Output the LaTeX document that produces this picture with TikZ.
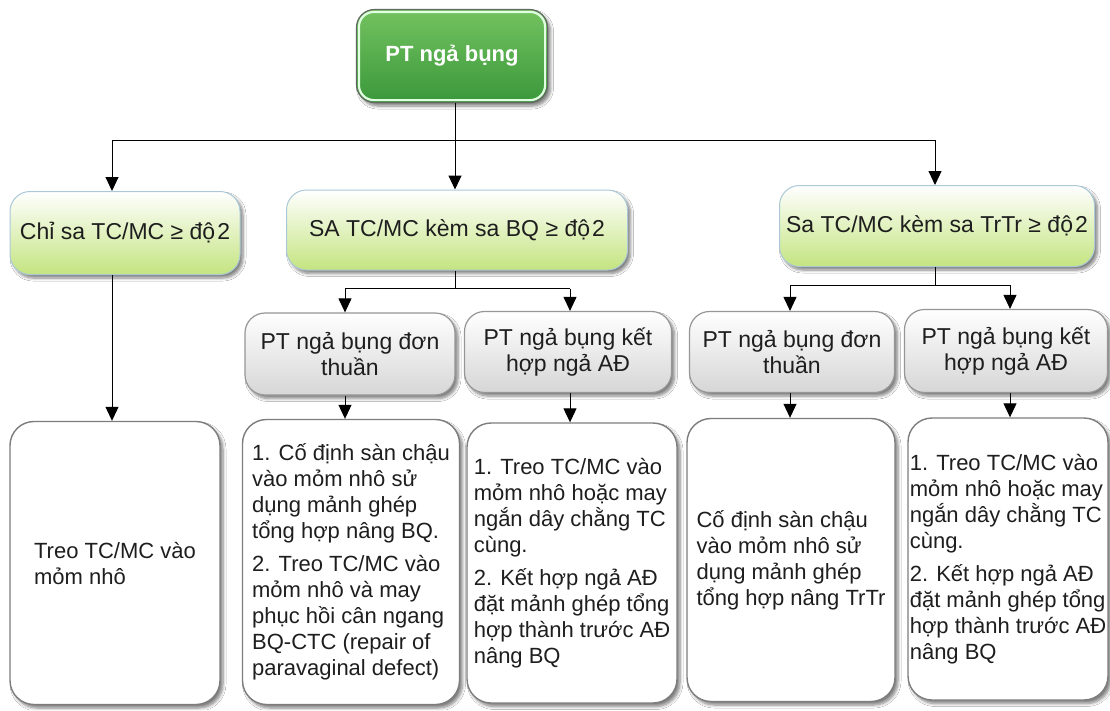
\documentclass[tikz,border=0pt]{standalone}
\usepackage{fontspec}
\setmainfont{Liberation Sans}
\usetikzlibrary{arrows.meta,shadows.blur}

\definecolor{rootTop}{RGB}{116,194,96}
\definecolor{rootBot}{RGB}{58,152,58}
\definecolor{rootEdge}{RGB}{95,105,95}
\definecolor{catBot}{RGB}{196,228,128}
\definecolor{catEdge}{RGB}{170,200,215}
\definecolor{subBot}{RGB}{214,214,214}
\definecolor{subEdge}{RGB}{150,150,150}
\definecolor{leafEdge}{RGB}{125,125,125}
\definecolor{ink}{RGB}{30,30,30}

\begin{document}
\begin{tikzpicture}[x=1pt,y=-1pt,
  font=\fontsize{23}{26}\selectfont,
  sz/.style 2 args={minimum width=#1pt, minimum height=#2pt},
  boxbase/.style={inner sep=0pt, text=ink, align=center,
    blur shadow={shadow xshift=3pt, shadow yshift=-3.5pt, shadow blur steps=6,
                 shadow opacity=50, shadow blur radius=3pt}},
  rootbox/.style={boxbase, rounded corners=18pt, draw=rootEdge, line width=1.2pt,
    top color=rootTop, bottom color=rootBot, text=white,
    font=\fontsize{22}{26}\selectfont\bfseries},
  catbox/.style={boxbase, rounded corners=20pt, draw=catEdge, line width=1pt,
    top color=white, bottom color=catBot},
  subbox/.style={boxbase, rounded corners=20pt, draw=subEdge, line width=1.2pt,
    top color=white, bottom color=subBot},
  leafbox/.style={boxbase, rounded corners=24pt, draw=leafEdge, line width=1.4pt,
    fill=white, align=left, font=\fontsize{22}{26}\selectfont},
  link/.style={draw=black, line width=1pt},
  arr/.style={link, -{Triangle[length=14pt, width=13pt]}}
]
\fill[white] (0,0) rectangle (1110,710);
\useasboundingbox (0,0) rectangle (1110,710);

% root
\node[rootbox, sz={191}{93}] (root) at (452,56) {PT ngả bụng};
\draw[white!88!green, line width=2.2pt, rounded corners=15pt]
  ([shift={(3pt,-3pt)}]root.north west) rectangle ([shift={(-3pt,3pt)}]root.south east);

% categories
\node[catbox, sz={230}{83}] (ca) at (125,233) {Chỉ sa TC/MC ≥ độ\kern2pt2};
\node[catbox, sz={341}{80}] (cb) at (457,230) {SA TC/MC kèm sa BQ ≥ độ\kern2pt2};
\node[catbox, sz={315}{81}] (cc) at (937,226) {Sa TC/MC kèm sa TrTr ≥ độ\kern2pt2};

% surgical approaches
\node[subbox, sz={210}{82}] (sa) at (350,354) {PT ngả bụng đơn\\thuần};
\node[subbox, sz={207}{81}] (sb) at (568,352) {PT ngả bụng kết\\hợp ngả AĐ};
\node[subbox, sz={205}{81}] (sc) at (792,352) {PT ngả bụng đơn\\thuần};
\node[subbox, sz={203}{83}] (sd) at (1006,351) {PT ngả bụng kết\\hợp ngả AĐ};

% procedures
\node[leafbox, sz={210}{283}] (ta) at (115,563) {Treo TC/MC vào\\mỏm nhô};
\node[leafbox, sz={217}{285}] (tb) at (351,562)
  {1. Cố định sàn chậu\\vào mỏm nhô sử\\dụng mảnh ghép\\tổng hợp nâng BQ.\\[7pt]
   2. Treo TC/MC vào\\mỏm nhô và may\\phục hồi cân ngang\\BQ-CTC (repair of\\paravaginal defect)};
\node[leafbox, sz={210}{280}] (tc) at (572,563)
  {1. Treo TC/MC vào\\mỏm nhô hoặc may\\ngắn dây chằng TC\\cùng.\\[7pt]
   2. Kết hợp ngả AĐ\\đặt mảnh ghép tổng\\hợp thành trước AĐ\\nâng BQ};
\node[leafbox, sz={208}{283}] (td) at (791,560)
  {Cố định sàn chậu\\vào mỏm nhô sử\\dụng mảnh ghép\\tổng hợp nâng TrTr};
\node[leafbox, sz={200}{282}] (te) at (1008,559)
  {1. Treo TC/MC vào\\mỏm nhô hoặc may\\ngắn dây chằng TC\\cùng.\\[7pt]
   2. Kết hợp ngả AĐ\\đặt mảnh ghép tổng\\hợp thành trước AĐ\\nâng BQ};

% root to categories
\coordinate (j0) at ([xshift=3pt]root.south |- 0,140);
\coordinate (jl) at ([xshift=-13pt]ca.north |- j0);
\coordinate (jr) at ([xshift=-2pt]cc.north |- j0);
\draw[link] ([xshift=3pt]root.south) -- (j0);
\draw[link] (jl) -- (jr);
\draw[arr] (jl) -- (jl |- ca.north);
\draw[arr] (j0) -- (j0 |- cb.north);
\draw[arr] (jr) -- (jr |- cc.north);

% first category to its procedure
\draw[arr] ([xshift=-13pt]ca.south) -- ([xshift=-13pt]ca.south |- ta.north);

% second category to approaches
\coordinate (jb) at ([xshift=-2pt,yshift=-18pt]cb.south);
\draw[link] ([xshift=-2pt]cb.south) -- (jb);
\draw[link] ([xshift=-5pt]jb -| sa.north) -- ([xshift=2pt]jb -| sb.north);
\draw[arr] ([xshift=-5pt]jb -| sa.north) -- ([xshift=-5pt]sa.north);
\draw[arr] ([xshift=2pt]jb -| sb.north) -- ([xshift=2pt]sb.north);

% third category to approaches
\coordinate (jc) at ([xshift=-2pt,yshift=-18pt]cc.south);
\draw[link] ([xshift=-2pt]cc.south) -- (jc);
\draw[link] ([xshift=-2pt]jc -| sc.north) -- ([xshift=4pt]jc -| sd.north);
\draw[arr] ([xshift=-2pt]jc -| sc.north) -- ([xshift=-2pt]sc.north);
\draw[arr] ([xshift=4pt]jc -| sd.north) -- ([xshift=4pt]sd.north);

% approaches to procedures
\draw[arr] ([xshift=-5pt]sa.south) -- ([xshift=-5pt]sa.south |- tb.north);
\draw[arr] ([xshift=2pt]sb.south) -- ([xshift=2pt]sb.south |- tc.north);
\draw[arr] ([xshift=-2pt]sc.south) -- ([xshift=-2pt]sc.south |- td.north);
\draw[arr] ([xshift=4pt]sd.south) -- ([xshift=4pt]sd.south |- te.north);
\end{tikzpicture}
\end{document}
